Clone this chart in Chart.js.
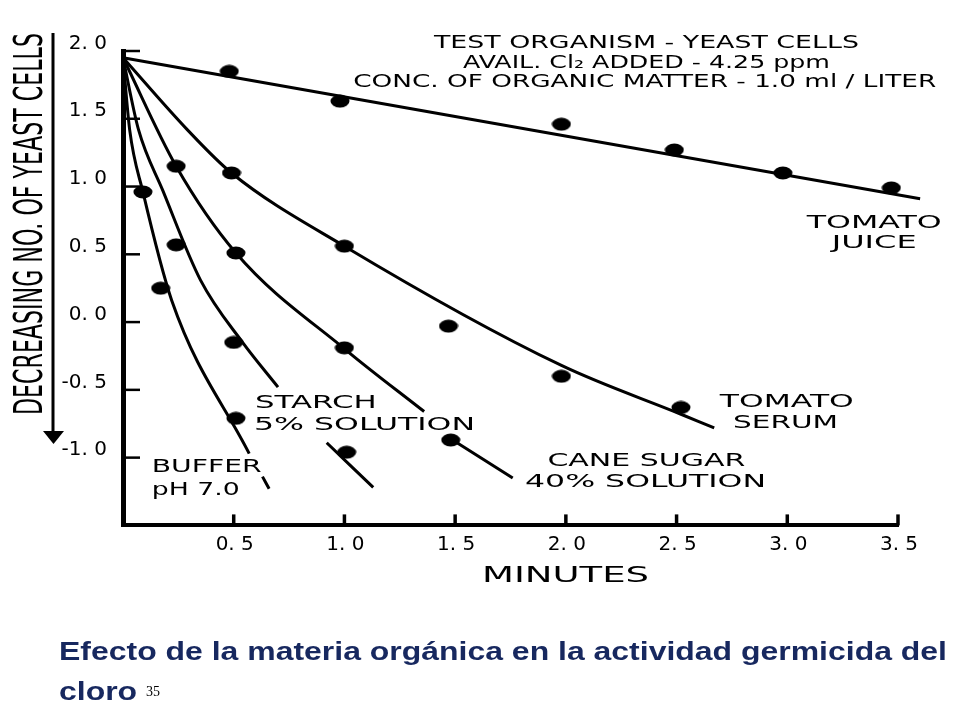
<!DOCTYPE html>
<html>
<head>
<meta charset="utf-8">
<script src="https://cdn.jsdelivr.net/npm/chart.js@4.4.1/dist/chart.umd.min.js"></script>
<style>
html,body{margin:0;padding:0;background:#fff;width:960px;height:720px;overflow:hidden}
#wrap{position:relative;width:960px;height:720px}
#c{position:absolute;left:0;top:0}
.cap{position:absolute;left:59px;font:bold 26px "Liberation Sans",Arial,sans-serif;color:#17285f;line-height:26px;white-space:nowrap;transform-origin:0 0}
.pg{position:absolute;left:146px;top:685px;font:14px "Liberation Serif","Times New Roman",serif;color:#000;line-height:14px}
</style>
</head>
<body>
<div id="wrap">
<canvas id="c" width="960" height="720"></canvas>
<div class="cap" id="cap1" style="top:638px">Efecto de la materia orgánica en la actividad germicida del</div>
<div class="cap" id="cap2" style="top:678px">cloro</div>
<div class="pg">35</div>
</div>
<script>
// ---- axis ticks ----
const minuteTicks = [0.5, 1.0, 1.5, 2.0, 2.5, 3.0, 3.5];
const minuteTickLabels = ['0. 5', '1. 0', '1. 5', '2. 0', '2. 5', '3. 0', '3. 5'];
const countTicks = [2.0, 1.5, 1.0, 0.5, 0.0, -0.5, -1.0];
const countTickLabels = ['2. 0', '1. 5', '1. 0', '0. 5', '0. 0', '-0. 5', '-1. 0'];

// ---- series: measured dots (minutes, decreasing no. of yeast cells) ----
const juiceDotMin = [0.48, 0.98, 1.98, 2.49, 2.98, 3.47];
const juiceDotVal = [1.85, 1.63, 1.46, 1.27, 1.10, 0.99];
const serumDotMin = [0.49, 1.00, 1.47, 1.98, 2.52];
const serumDotVal = [1.10, 0.56, -0.03, -0.40, -0.63];
const caneDotMin = [0.24, 0.51, 1.00, 1.48];
const caneDotVal = [1.15, 0.51, -0.19, -0.87];
const starchDotMin = [0.24, 0.50, 1.01];
const starchDotVal = [0.57, -0.15, -0.96];
const bufferDotMin = [0.09, 0.17, 0.51];
const bufferDotVal = [0.96, 0.25, -0.71];

// ---- series: drawn curves (null = break in the hand-drawn line) ----
const juiceLineMin = [0, 3.60];
const juiceLineVal = [1.95, 0.91];
const serumLineMin = [0, 0.29, 0.49, 1.00, 1.98, 2.52, 2.67];
const serumLineVal = [1.95, 1.42, 1.10, 0.56, -0.32, -0.68, -0.78];
const caneLineMin = [0, 0.24, 0.51, 1.01, 1.36, 1.42, 1.48, 1.76];
const caneLineVal = [1.95, 1.15, 0.51, -0.21, -0.66, null, -0.86, -1.15];
const starchLineMin = [0, 0.07, 0.18, 0.35, 0.54, 0.70, 0.80, 0.92, 1.13];
const starchLineVal = [1.95, 1.42, 0.97, 0.31, -0.15, -0.48, null, -0.89, -1.22];
const bufferLineMin = [0, 0.03, 0.09, 0.22, 0.57, 0.60, 0.63, 0.66];
const bufferLineVal = [1.95, 1.42, 0.96, 0.16, -0.97, null, -1.14, -1.23];

const seriesNames = ['TOMATO JUICE', 'TOMATO SERUM', 'CANE SUGAR 40% SOLUTION', 'STARCH 5% SOLUTION', 'BUFFER pH 7.0'];

// ---- texts ----
const headerLines = ['TEST ORGANISM - YEAST CELLS', 'AVAIL. Cl\u2082 ADDED - 4.25 ppm', 'CONC. OF ORGANIC MATTER - 1.0 ml / LITER'];
const yTitle = 'DECREASING NO. OF YEAST CELLS';
const xTitle = 'MINUTES';

function pts(xs, ys) { return xs.map((x, i) => ({ x: x, y: ys[i] })); }

function makeDot() {
  const c = document.createElement('canvas');
  c.width = 20; c.height = 14;
  const g = c.getContext('2d');
  g.fillStyle = '#000';
  g.beginPath(); g.ellipse(10, 7, 9.5, 6.5, 0, 0, Math.PI * 2); g.fill();
  return c;
}
const dot = makeDot();

function lineDs(label, xs, ys) {
  return { label: label, data: pts(xs, ys), showLine: true, borderColor: '#000', borderWidth: 3,
    pointRadius: 0, pointHoverRadius: 0, cubicInterpolationMode: 'monotone', spanGaps: false,
    fill: false, clip: false, borderCapStyle: 'butt' };
}
function dotDs(label, xs, ys) {
  return { label: label, data: pts(xs, ys), showLine: false, pointStyle: dot, pointRadius: 8,
    pointHoverRadius: 8, backgroundColor: '#000', borderColor: '#000', clip: false };
}

const datasets = [
  lineDs(seriesNames[0], juiceLineMin, juiceLineVal),
  lineDs(seriesNames[1], serumLineMin, serumLineVal),
  lineDs(seriesNames[2], caneLineMin, caneLineVal),
  lineDs(seriesNames[3], starchLineMin, starchLineVal),
  lineDs(seriesNames[4], bufferLineMin, bufferLineVal),
  dotDs(seriesNames[0] + ' data', juiceDotMin, juiceDotVal),
  dotDs(seriesNames[1] + ' data', serumDotMin, serumDotVal),
  dotDs(seriesNames[2] + ' data', caneDotMin, caneDotVal),
  dotDs(seriesNames[3] + ' data', starchDotMin, starchDotVal),
  dotDs(seriesNames[4] + ' data', bufferDotMin, bufferDotVal)
];

const FONT = '"DejaVu Sans", Verdana, sans-serif';
const CAP = 0.729;

// draw text whose caps are centred on cy, horizontally fitted to width w
function fitText(ctx, text, x, cy, w, size, align, family) {
  ctx.save();
  ctx.font = size + 'px ' + (family || FONT);
  const m = ctx.measureText(text).width;
  const s = w / m;
  const cx = align === 'left' ? x + w / 2 : x;
  ctx.translate(cx, cy);
  ctx.scale(s, 1);
  ctx.textAlign = 'center';
  ctx.textBaseline = 'alphabetic';
  ctx.fillText(text, 0, size * CAP / 2);
  ctx.restore();
}

const decor = {
  id: 'decor',
  afterDraw(chart) {
    const ctx = chart.ctx;
    const xs = chart.scales.x, ys = chart.scales.y;
    ctx.save();
    ctx.fillStyle = '#000';
    ctx.strokeStyle = '#000';
    ctx.lineCap = 'butt';
    // inward tick marks
    ctx.lineWidth = 3.5;
    minuteTicks.forEach(v => {
      const px = xs.getPixelForValue(v);
      ctx.beginPath(); ctx.moveTo(px, ys.bottom); ctx.lineTo(px, ys.bottom - 11); ctx.stroke();
    });
    ctx.lineWidth = 2.5;
    countTicks.forEach(v => {
      const py = ys.getPixelForValue(v);
      ctx.beginPath(); ctx.moveTo(xs.left, py); ctx.lineTo(xs.left + 17, py); ctx.stroke();
    });
    // arrow beside the y title
    ctx.lineWidth = 3;
    ctx.beginPath(); ctx.moveTo(53, 33); ctx.lineTo(53, 434); ctx.stroke();
    ctx.beginPath(); ctx.moveTo(43, 431); ctx.lineTo(64, 431); ctx.lineTo(53.5, 444); ctx.closePath(); ctx.fill();

    // y title (rotated, condensed)
    ctx.save();
    ctx.translate(27.5, 224);
    ctx.rotate(-Math.PI / 2);
    const ysz = 39;
    ctx.font = ysz + 'px "DejaVu Sans Condensed", "Liberation Sans Narrow", "DejaVu Sans", sans-serif';
    const yw = ctx.measureText(yTitle).width;
    ctx.scale(382 / yw, 1);
    ctx.textAlign = 'center';
    ctx.textBaseline = 'alphabetic';
    ctx.fillText(yTitle, 0, ysz * CAP / 2);
    ctx.restore();

    // header
    fitText(ctx, headerLines[0], 646.4, 41.7, 425, 18, 'center');
    fitText(ctx, headerLines[1], 646.5, 61.7, 367, 18, 'center');
    fitText(ctx, headerLines[2], 644.7, 80, 583, 18, 'center');

    // series labels
    fitText(ctx, 'TOMATO', 874.2, 221.5, 135, 18, 'center');
    fitText(ctx, 'JUICE', 874.2, 241, 85, 18, 'center');
    fitText(ctx, 'TOMATO', 786.8, 400, 134, 18, 'center');
    fitText(ctx, 'SERUM', 785.5, 421.7, 105, 18, 'center');
    fitText(ctx, 'CANE SUGAR', 646.4, 459.7, 198, 18, 'center');
    fitText(ctx, '40% SOLUTION', 645.5, 480, 241, 18, 'center');
    fitText(ctx, 'STARCH', 255, 401.7, 121.7, 18, 'left');
    fitText(ctx, '5% SOLUTION', 254, 423.3, 221, 18, 'left');
    fitText(ctx, 'BUFFER', 151.7, 465.5, 110, 17, 'left');
    fitText(ctx, 'pH 7.0', 151.7, 489, 88, 17, 'left');

    // x title
    fitText(ctx, xTitle, 565.5, 575, 167, 20.5, 'center');
    ctx.restore();
  }
};

new Chart(document.getElementById('c').getContext('2d'), {
  type: 'scatter',
  data: { datasets: datasets },
  options: {
    responsive: false,
    animation: false,
    events: [],
    layout: { padding: { left: 0, top: 51, right: 62, bottom: 0 } },
    plugins: { legend: { display: false }, tooltip: { enabled: false }, title: { display: false } },
    scales: {
      x: {
        type: 'linear', min: 0, max: 3.5,
        afterFit: s => { s.height = 720 - 525.4; },
        afterBuildTicks: s => { s.ticks = minuteTicks.map(v => ({ value: v })); },
        ticks: {
          autoSkip: false, maxRotation: 0, padding: 7, labelOffset: 1, color: '#000',
          font: { family: 'DejaVu Sans', size: 20 },
          callback: v => { const i = minuteTicks.indexOf(v); return i < 0 ? '' : minuteTickLabels[i]; }
        },
        grid: { drawOnChartArea: false, drawTicks: false, color: 'rgba(0,0,0,0)' },
        border: { display: true, color: '#000', width: 4 }
      },
      y: {
        type: 'linear', min: -1.5, max: 2.0,
        afterFit: s => { s.width = 123; },
        afterBuildTicks: s => { s.ticks = countTicks.map(v => ({ value: v })); },
        ticks: {
          autoSkip: false, padding: 16, labelOffset: -7.5, color: '#000',
          font: { family: 'DejaVu Sans', size: 20 },
          callback: v => { const i = countTicks.indexOf(v); return i < 0 ? '' : countTickLabels[i]; }
        },
        grid: { drawOnChartArea: false, drawTicks: false, color: 'rgba(0,0,0,0)' },
        border: { display: true, color: '#000', width: 5 }
      }
    }
  },
  plugins: [decor]
});

// fit the caption to the width it has in the slide
(function () {
  const c1 = document.getElementById('cap1'), c2 = document.getElementById('cap2');
  const w = c1.getBoundingClientRect().width;
  const s = 888 / w;
  c1.style.transform = 'scaleX(' + s + ')';
  c2.style.transform = 'scaleX(' + s + ')';
})();
</script>
</body>
</html>
